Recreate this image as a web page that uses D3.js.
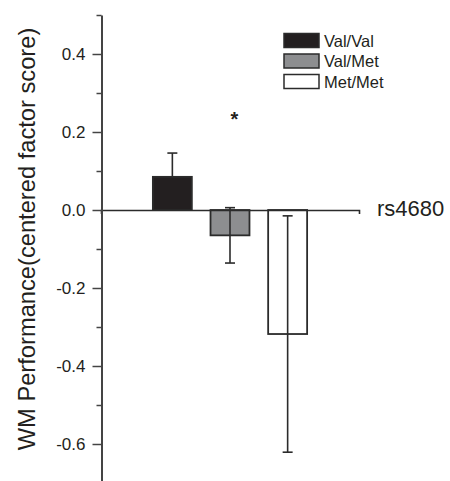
<!DOCTYPE html>
<html>
<head>
<meta charset="utf-8">
<script src="https://cdn.jsdelivr.net/npm/d3@7"></script>
<style>
  body { margin: 0; background: #fff; }
  text { font-family: "Liberation Sans", Arial, sans-serif; fill: #231f20; }
</style>
</head>
<body>
<div id="chart"></div>
<script>
// genotype groups and their means / standard errors
const genotypes = ["Val/Val", "Val/Met", "Met/Met"];
const means = [0.085, -0.065, -0.318];
const errors = [0.061, 0.071, 0.303];
const errSides = ["up", "both", "both"];
const fills = ["#231f20", "#8d8e90", "#ffffff"];
const majorTicks = [-0.6, -0.4, -0.2, 0.0, 0.2, 0.4];
const minorTicks = [-0.7, -0.5, -0.3, -0.1, 0.1, 0.3, 0.5];
const snpLabel = "rs4680";
const yTitle = "WM Performance(centered factor score)";
const sigMarks = [{ group: "Val/Met", value: 0.24, label: "*" }];

const width = 450, height = 481;

const svg = d3.select("#chart")
  .append("svg")
  .attr("width", width)
  .attr("height", height);

// scales
const y = d3.scaleLinear()
  .domain([-0.7, 0.5])
  .range([483, 15]);

const x = d3.scaleBand()
  .domain(genotypes)
  .range([101, 359])
  .paddingInner(0.324)
  .paddingOuter(0.9);

const data = genotypes.map((g, i) => ({
  group: g, mean: means[i], se: errors[i], side: errSides[i], fill: fills[i]
}));

// bars
svg.append("g")
  .selectAll("rect")
  .data(data)
  .join("rect")
  .attr("x", d => x(d.group))
  .attr("y", d => y(Math.max(0, d.mean)))
  .attr("width", x.bandwidth())
  .attr("height", d => Math.abs(y(d.mean) - y(0)))
  .attr("fill", d => d.fill)
  .attr("stroke", "#2b2b2b")
  .attr("stroke-width", 1.8);

// error bars
const hi = d => d.mean + d.se;
const lo = d => d.side === "up" ? d.mean : d.mean - d.se;
const cx = d => x(d.group) + x.bandwidth() / 2;

const err = svg.append("g")
  .attr("stroke", "#2b2b2b")
  .attr("stroke-width", 1.6)
  .selectAll("g")
  .data(data)
  .join("g");
err.append("line")
  .attr("x1", cx)
  .attr("x2", cx)
  .attr("y1", d => y(hi(d)))
  .attr("y2", d => y(lo(d)));
err.selectAll(".cap")
  .data(d => (d.side === "up" ? [hi(d)] : [hi(d), lo(d)]).map(v => ({ group: d.group, v: v })))
  .join("line")
  .attr("class", "cap")
  .attr("x1", d => cx(d) - 5)
  .attr("x2", d => cx(d) + 5)
  .attr("y1", d => y(d.v))
  .attr("y2", d => y(d.v));

// zero line (x axis) with an end tick
const xAxis = svg.append("g")
  .attr("transform", `translate(0, ${y(0)})`)
  .call(d3.axisBottom(x).tickValues([]).tickSizeOuter(4));
xAxis.select(".domain").attr("stroke", "#2b2b2b").attr("stroke-width", 1.6);

svg.append("text")
  .attr("x", 377)
  .attr("y", y(0) + 6)
  .style("font-size", "22px")
  .text(snpLabel);

// y axis: minor then major ticks
const yMinor = svg.append("g")
  .attr("transform", "translate(101.5,0)")
  .call(d3.axisLeft(y).tickValues(minorTicks).tickSize(5).tickSizeOuter(0).tickFormat(""));
yMinor.selectAll("line").attr("stroke", "#444").attr("stroke-width", 1.5);
yMinor.select(".domain").attr("stroke", "#444").attr("stroke-width", 2);

const yMajor = svg.append("g")
  .attr("transform", "translate(101.5,0)")
  .call(d3.axisLeft(y).tickValues(majorTicks).tickSize(9).tickSizeOuter(0).tickPadding(7)
    .tickFormat(d => d.toFixed(1)));
yMajor.select(".domain").remove();
yMajor.selectAll("line").attr("stroke", "#444").attr("stroke-width", 1.5);
yMajor.selectAll("text")
  .style("font-size", "17px")
  .style("font-family", "'Liberation Sans', Arial, sans-serif")
  .attr("fill", "#231f20");

svg.append("text")
  .attr("transform", "rotate(-90)")
  .attr("x", -239)
  .attr("y", 35)
  .attr("text-anchor", "middle")
  .style("font-size", "23.7px")
  .text(yTitle);

// significance marker
svg.selectAll(".sig")
  .data(sigMarks)
  .join("text")
  .attr("class", "sig")
  .attr("x", d => x(d.group) + x.bandwidth() / 2 + 4.5)
  .attr("y", d => y(d.value) + 10)
  .attr("text-anchor", "middle")
  .style("font-size", "20px")
  .style("font-weight", "bold")
  .text(d => d.label);

// legend
const legend = svg.append("g")
  .selectAll("g")
  .data(data)
  .join("g")
  .attr("transform", (d, i) => `translate(284, ${33.5 + i * 20.5})`);
legend.append("rect")
  .attr("width", 35)
  .attr("height", 14)
  .attr("fill", d => d.fill)
  .attr("stroke", "#2b2b2b")
  .attr("stroke-width", 1.5);
legend.append("text")
  .attr("x", 40)
  .attr("y", 13)
  .style("font-size", "16.5px")
  .text(d => d.group);
</script>
</body>
</html>
